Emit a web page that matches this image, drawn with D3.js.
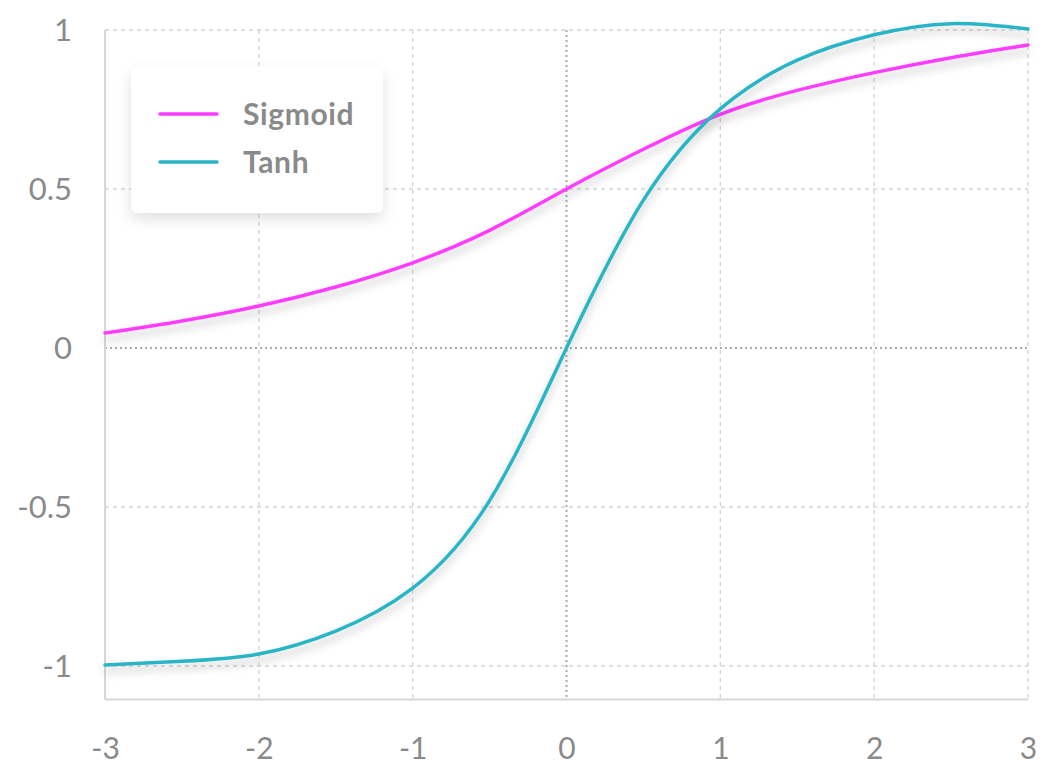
<!DOCTYPE html>
<html>
<head>
<meta charset="utf-8">
<script src="https://cdn.jsdelivr.net/npm/d3@7"></script>
<style>
html,body{margin:0;padding:0;background:#fff;}
svg{display:block;font-family:Lato, "Open Sans", sans-serif;}
</style>
</head>
<body>
<svg id="chart" width="1061" height="766"></svg>
<script>
const xValues = [-3, -2.5, -2, -1.5, -1, -0.5, 0, 0.5, 1, 1.5, 2, 2.5, 3];
const sigmoidValues = [0.047, 0.085, 0.132, 0.192, 0.268, 0.37, 0.5, 0.625, 0.735, 0.81, 0.866, 0.913, 0.953];
const tanhValues = [-0.997, -0.985, -0.962, -0.89, -0.755, -0.48, 0, 0.465, 0.752, 0.905, 0.985, 1.02, 1.003];
const xTicks = [-3, -2, -1, 0, 1, 2, 3];
const yTicks = [-1, -0.5, 0, 0.5, 1];
const seriesNames = ["Sigmoid", "Tanh"];
const seriesColors = ["#ff3cff", "#2ab5c6"];

const svg = d3.select("#chart");
const x = d3.scaleLinear().domain([-3, 3]).range([105, 1028]);
const y = d3.scaleLinear().domain([-1, 1]).range([666, 30]);
const yBottom = y(-1.105);
const fmt = d => String(d);

const defs = svg.append("defs");
const f = defs.append("filter").attr("id","shadow").attr("x","-10%").attr("y","-20%").attr("width","120%").attr("height","160%");
f.append("feDropShadow").attr("dx",0).attr("dy",6).attr("stdDeviation",4).attr("flood-color","#000").attr("flood-opacity",0.22);
const f2 = defs.append("filter").attr("id","boxshadow").attr("x","-20%").attr("y","-20%").attr("width","140%").attr("height","160%");
f2.append("feDropShadow").attr("dx",0).attr("dy",6).attr("stdDeviation",7).attr("flood-color","#000").attr("flood-opacity",0.12);

// grid
const grid = svg.append("g");
xTicks.forEach(t => {
  grid.append("line").attr("x1", x(t)).attr("x2", x(t)).attr("y1", y(1)).attr("y2", yBottom)
    .attr("stroke", t === 0 ? "#aaa" : "#d4d4d4").attr("stroke-width", t === 0 ? 2 : 1.3)
    .attr("stroke-dasharray", t === 0 ? "2,3" : "4,4");
});
yTicks.forEach(t => {
  grid.append("line").attr("x1", x(-3)).attr("x2", x(3)).attr("y1", y(t)).attr("y2", y(t))
    .attr("stroke", t === 0 ? "#aaa" : "#d4d4d4").attr("stroke-width", t === 0 ? 2 : 1.3)
    .attr("stroke-dasharray", t === 0 ? "2,3" : "4,4");
});
// axes lines
svg.append("line").attr("x1", x(-3)).attr("x2", x(-3)).attr("y1", y(1)).attr("y2", yBottom).attr("stroke","#d6d6d6").attr("stroke-width",2);
svg.append("line").attr("x1", x(-3)).attr("x2", x(3)).attr("y1", yBottom).attr("y2", yBottom).attr("stroke","#d6d6d6").attr("stroke-width",2);

// tick labels
const yAxis = d3.axisLeft(y).tickValues(yTicks).tickSize(0).tickPadding(0).tickFormat(fmt);
const ya = svg.append("g").attr("transform", "translate(72,0)").call(yAxis);
ya.select(".domain").remove();
ya.selectAll("text").attr("fill","#8a8a8a").style("font-size","31px").style("font-family","Lato").attr("dy","0.35em").attr("x",0);

const xAxis = d3.axisBottom(x).tickValues(xTicks).tickSize(0).tickPadding(0).tickFormat(fmt);
const xa = svg.append("g").call(xAxis);
xa.select(".domain").remove();
xa.selectAll("text").attr("fill","#8a8a8a").style("font-size","30px").style("font-family","Lato").attr("y",759).attr("dy",0);

// lines
const pts = (vals) => xValues.map((v,i) => [v, vals[i]]);
const line = d3.line().x(d => x(d[0])).y(d => y(d[1])).curve(d3.curveNatural);
[sigmoidValues, tanhValues].forEach((vals, i) => {
  svg.append("path").datum(pts(vals)).attr("d", line).attr("fill","none")
    .attr("stroke", seriesColors[i]).attr("stroke-width", 3.5).attr("stroke-linecap","round")
    .attr("filter","url(#shadow)");
});

// legend
const lg = svg.append("g");
lg.append("rect").attr("x",131).attr("y",67).attr("width",252).attr("height",146).attr("rx",7)
  .attr("fill","#fff").attr("filter","url(#boxshadow)");
seriesNames.forEach((n, i) => {
  const cy = 114 + i * 48;
  lg.append("line").attr("x1",160).attr("x2",217).attr("y1",cy).attr("y2",cy)
    .attr("stroke",seriesColors[i]).attr("stroke-width",3.5).attr("stroke-linecap","round");
  lg.append("text").attr("x",243).attr("y",cy).attr("dy","0.35em").text(n)
    .attr("fill","#8a8a8a").style("font-size","30px").style("font-weight","700").style("letter-spacing","0.6px").style("font-family","Lato");
});
</script>
</body>
</html>
